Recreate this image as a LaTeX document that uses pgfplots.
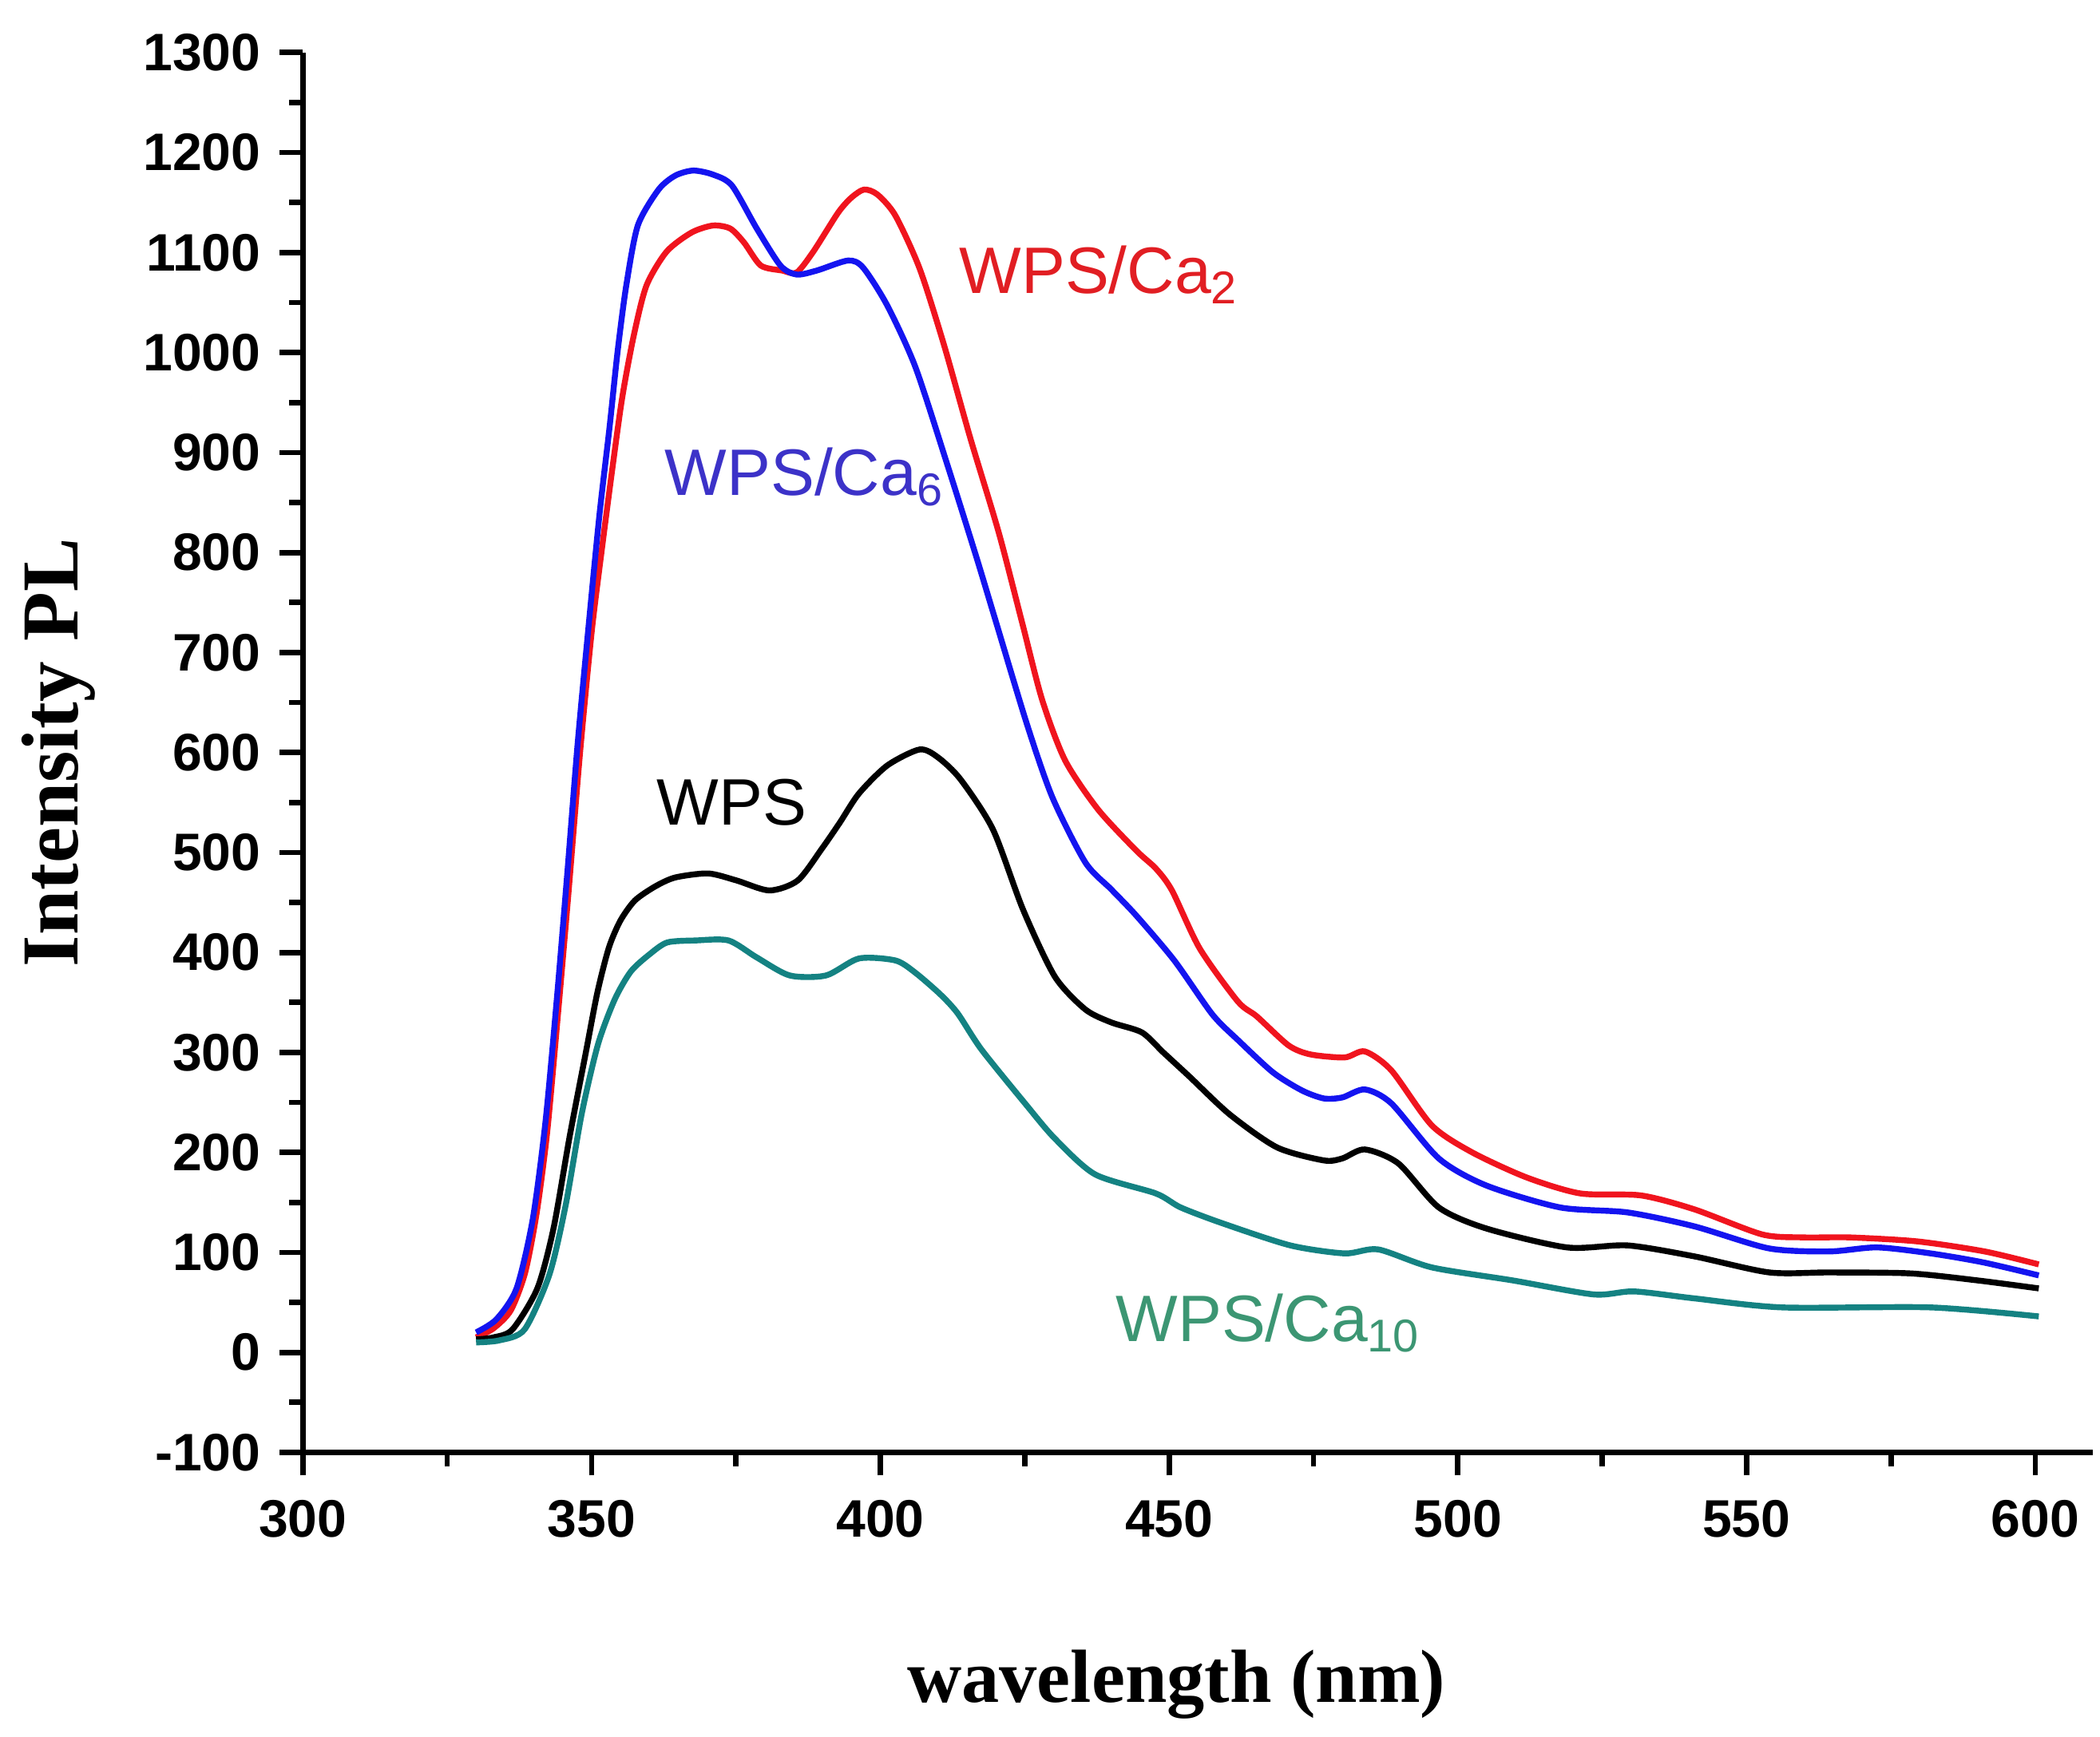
\documentclass[border=0pt]{standalone}
\usepackage{fontspec}
\setmainfont{Liberation Sans}
\newfontfamily\timesfont{Liberation Serif}
\usepackage{pgfplots}
\pgfplotsset{compat=1.18}
\definecolor{cred}{RGB}{240,20,30}
\definecolor{cblue}{RGB}{20,20,240}
\definecolor{cteal}{RGB}{20,130,130}
\definecolor{lred}{RGB}{225,30,35}
\definecolor{lblue}{RGB}{60,50,200}
\definecolor{lteal}{RGB}{60,150,115}
\begin{document}
\begin{tikzpicture}
\begin{axis}[
  x=1.0725pt, y=0.18575pt,
  xmin=300, xmax=610, ymin=-100, ymax=1300,
  axis x line=bottom, axis y line=left,
  axis line style={line width=1.1pt, -},
  xtick={300,350,...,600}, ytick={-100,0,...,1300},
  minor xtick={325,375,...,575}, minor ytick={-50,50,...,1250},
  tick align=outside,
  major tick length=4.3pt, minor tick length=2.6pt,
  every tick/.style={line width=1pt, black},
  tick label style={font=\fontsize{9.8}{10}\selectfont\bfseries},
  /pgf/number format/assume math mode=true,
  /pgf/number format/set thousands separator={},
  xticklabel style={yshift=-1pt},
  xlabel={\timesfont\bfseries\fontsize{14}{16}\selectfont wavelength (nm)},
  ylabel={\timesfont\bfseries\fontsize{15}{16}\selectfont Intensity PL},
  xlabel style={yshift=-14pt, xshift=-4pt},
  ylabel style={yshift=2pt},
  clip=false,
  every axis plot/.append style={line width=1.1pt, line join=round, smooth, tension=0.45},
]
\addplot[cred] coordinates {
(330,15)(333,24)(336,42)(338.5,80)(340.5,140)(342.3,220)(344.2,340)(346,460)(348,600)(350,720)
(351.7,800)(353.5,880)(355.3,955)(357.3,1017)(359.5,1067)(363,1101)(367.3,1120)(371,1127)(374,1124)
(376.4,1110)(379.3,1087)(383,1082)(385.5,1080)(388.4,1101)(392.7,1140)(395,1155)(397.2,1163)(399.5,1158)
(402.6,1137)(406.8,1084)(411,1008)(415.6,914)(420.5,820)(424.5,731)(428,653)(432,592)(437.7,543)
(444.3,502)(447.7,484)(450.5,462)(455.3,404)(461.9,351)(465.2,336)(470.7,307)(474.5,298)(480.4,295)
(483.9,301)(488.5,282)(495.5,227)(502.5,200)(511.9,175)(521.2,159)(531.7,157)(541,143)(552.7,118)
(560,115)(567.9,115)(579.6,111)(591.2,101)(600.6,88)
};
\addplot[cblue] coordinates {
(330,20)(333.5,33)(337,64)(339.8,133)(342,230)(344,355)(345.8,480)(347.6,610)(349.7,740)
(351.4,840)(353.1,925)(354.5,1001)(356,1067)(358,1127)(361.6,1163)(364.5,1177)(367.6,1182)(371,1178)
(374.3,1167)(378.6,1124)(382.7,1087)(385.5,1078)(389,1082)(394.4,1092)(397,1085)(401.2,1047)(406.1,985)
(411.7,886)(416.6,796)(420,731)(425.4,628)(429.8,555)(435.5,490)(440,463)(444.3,437)(450.9,392)
(457.5,338)(462,312)(468,280)(473,262)(476.8,254)(480,255)(483.9,263)(488.5,249)(496.7,194)(504.9,167)
(517.7,145)(529.4,140)(541,126)(553.9,104)(564.4,101)(572.6,105)(581.9,99)(591,90)(600.6,77)
};
\addplot[black] coordinates {
(330,13)(333,15)(336.3,23)(340.6,64)(343.4,124)(346.2,216)(349,300)(351,360)(353,405)(355,432)
(357.5,452)(361,466)(364.5,475)(370.2,479)(375.1,472)(380.8,462)(385.7,472)(389.9,504)(393,530)
(396.3,559)(401.2,587)(406.8,603)(410,595)(413.9,573)(419.5,523)(424.7,443)(430.2,376)(435.5,343)
(440,330)(445.3,320)(449,300)(453.5,276)(460.5,238)(468.7,205)(476.8,192)(480,194)(483.9,203)
(489.7,189)(496.7,145)(504.9,124)(518.9,105)(529.4,107)(541,96)(553.9,80)(564.4,80)(578.4,79)
(590,72)(600.6,64)
};
\addplot[cteal] coordinates {
(330,10)(334,12)(338.4,23)(342.7,78)(345.5,147)(348.3,239)(351.1,308)(354,353)(356.8,381)(360,398)
(363.1,410)(368,412)(373.7,412)(378.6,395)(384.3,377)(390.6,377)(396.3,394)(402.6,392)(406,380)
(410.4,358)(413.4,339)(417.5,303)(425.2,248)(430.2,214)(437.2,178)(447.7,159)(452,145)(459.3,129)
(471,107)(480.4,99)(486.2,103)(495.5,85)(509.5,72)(523.5,58)(530.5,61)(541,54)(556.2,45)(581.9,45)
(600.6,36)
};
\node[anchor=base west, inner sep=0pt, text=lred, font=\fontsize{12.2}{14}\selectfont] at (axis cs:413.5,1059) {WPS/Ca\textsubscript{2}};
\node[anchor=base west, inner sep=0pt, text=lblue, font=\fontsize{12.2}{14}\selectfont] at (axis cs:362.5,857) {WPS/Ca\textsubscript{6}};
\node[anchor=base west, inner sep=0pt, text=black, font=\fontsize{12.2}{14}\selectfont] at (axis cs:361.1,527.6) {WPS};
\node[anchor=base west, inner sep=0pt, text=lteal, font=\fontsize{12.2}{14}\selectfont] at (axis cs:440.6,10.8) {WPS/Ca\textsubscript{10}};
\coordinate (bl) at (axis cs:247.55,-356.7);
\coordinate (tr) at (axis cs:611.2,1352.6);
\end{axis}
\path (bl) rectangle (tr);
\end{tikzpicture}
\end{document}
